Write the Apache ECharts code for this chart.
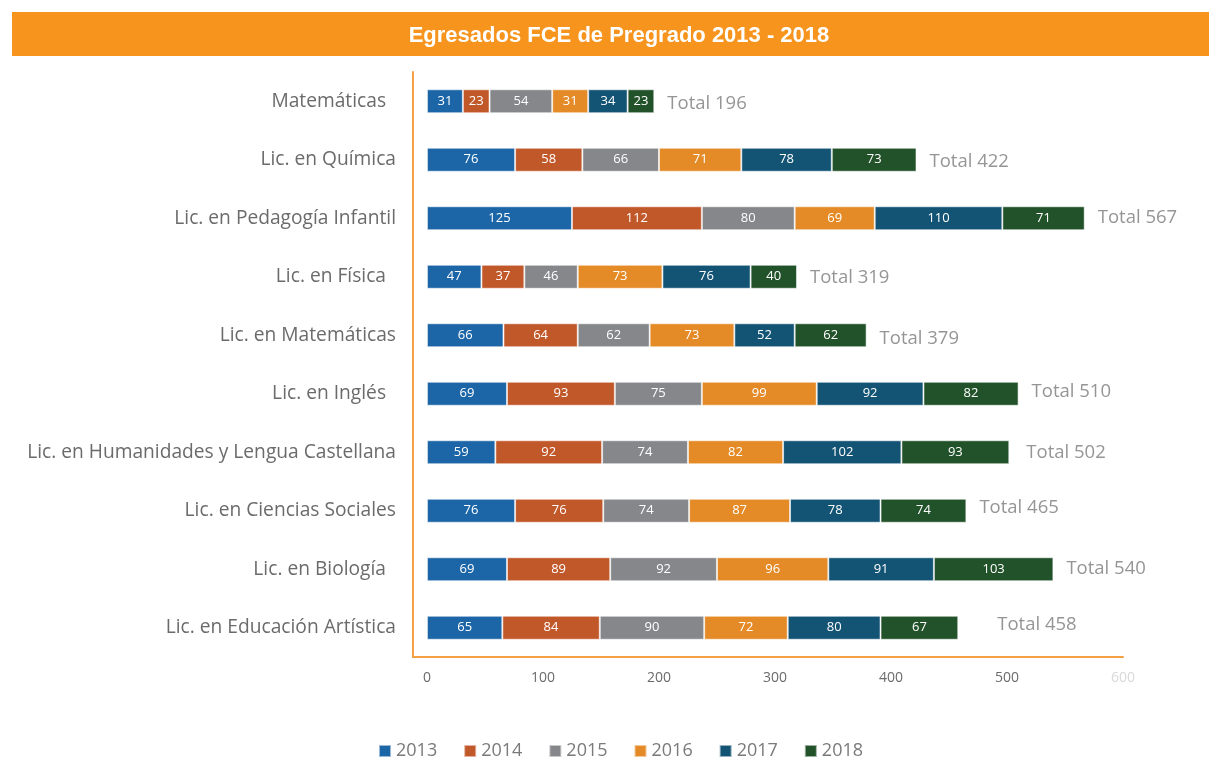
<!DOCTYPE html>
<html>
<head>
<meta charset="utf-8">
<script src="https://cdn.jsdelivr.net/npm/echarts@6/dist/echarts.min.js"></script>
<style>
html,body{margin:0;padding:0;background:#fff;}
#chart{width:1209px;height:760px;}
</style>
</head>
<body>
<div id="chart"></div>
<script>
var categories = [
  'Matemáticas  ',
  'Lic. en Química',
  'Lic. en Pedagogía Infantil',
  'Lic. en Física  ',
  'Lic. en Matemáticas',
  'Lic. en Inglés  ',
  'Lic. en Humanidades y Lengua Castellana',
  'Lic. en Ciencias Sociales',
  'Lic. en Biología  ',
  'Lic. en Educación Artística'
];
var years = ['2013', '2014', '2015', '2016', '2017', '2018'];
var v2013 = [31, 76, 125, 47, 66, 69, 59, 76, 69, 65];
var v2014 = [23, 58, 112, 37, 64, 93, 92, 76, 89, 84];
var v2015 = [54, 66, 80, 46, 62, 75, 74, 74, 92, 90];
var v2016 = [31, 71, 69, 73, 73, 99, 82, 87, 96, 72];
var v2017 = [34, 78, 110, 76, 52, 92, 102, 78, 91, 80];
var v2018 = [23, 73, 71, 40, 62, 82, 93, 74, 103, 67];
var totals = [196, 422, 567, 319, 379, 510, 502, 465, 540, 458];
var xTicks = [0, 100, 200, 300, 400, 500, 600];

var seriesValues = [v2013, v2014, v2015, v2016, v2017, v2018];
var colors = ['#1c66a8', '#c1582a', '#86878b', '#e48a26', '#135475', '#22522a'];
var totalOffsets = [[0,2],[0,2],[0,-1],[0,1],[0,3],[0,-2],[4,0],[0,-3],[0,-1],[26,-3]];

var font = '"Open Sans", Lato, sans-serif';
var chart = echarts.init(document.getElementById('chart'));

var series = seriesValues.map(function (vals, i) {
  return {
    name: years[i],
    type: 'bar',
    stack: 'total',
    barWidth: 24,
    data: vals,
    itemStyle: { color: colors[i], borderColor: 'rgba(255,255,255,0.55)', borderWidth: 1 },
    label: { show: true, position: 'inside', color: '#ffffff', fontSize: 13, fontFamily: font },
    emphasis: { disabled: true }
  };
});

series.push({
  name: 'Total',
  type: 'scatter',
  symbolSize: 0,
  data: totals.map(function (t, i) {
    return { value: [t, i], label: { offset: totalOffsets[i] } };
  }),
  label: {
    show: true,
    position: 'right',
    distance: 13,
    color: '#7a7a7a',
    fontSize: 18.5,
    fontFamily: font,
    formatter: function (p) { return 'Total ' + p.value[0]; }
  },
  silent: true
});

chart.setOption({
  animation: false,
  color: colors,
  graphic: [
    { type: 'rect', left: 12, top: 12, shape: { width: 1197, height: 44 }, style: { fill: '#f7941d' }, z: -1 }
  ],
  title: {
    text: 'Egresados FCE de Pregrado 2013 - 2018',
    left: 614,
    top: 20,
    textAlign: 'center',
    textStyle: { color: '#ffffff', fontSize: 22, fontWeight: 'bold', fontFamily: '"Liberation Sans Narrow", "Liberation Sans", Arial, sans-serif', letterSpacing: -0.5 }
  },
  legend: {
    data: years,
    top: 742,
    left: 378,
    padding: 0,
    itemWidth: 12,
    itemHeight: 12,
    itemGap: 26,
    icon: 'rect',
    textStyle: { color: '#7a7a7a', fontSize: 18, fontFamily: font }
  },
  grid: { left: 413, right: 86, top: 72, bottom: 103, containLabel: false },
  xAxis: {
    type: 'value',
    min: -12,
    max: 600,
    axisLine: { show: true, lineStyle: { color: '#f5a042', width: 2 } },
    axisTick: { show: false },
    splitLine: { show: false },
    axisLabel: {
      customValues: xTicks,
      margin: 14,
      fontSize: 14,
      fontFamily: font,
      color: function (v) { return v == 600 ? '#d9d9d9' : '#6b6b6b'; }
    }
  },
  yAxis: {
    type: 'category',
    data: categories,
    inverse: true,
    axisLine: { show: true, onZero: false, lineStyle: { color: '#f5a042', width: 2 } },
    axisTick: { show: false },
    axisLabel: { margin: 17, fontSize: 19.2, color: '#6b6b6b', fontFamily: font, padding: [0, 0, 4, 0] }
  },
  series: series
});
</script>
</body>
</html>
